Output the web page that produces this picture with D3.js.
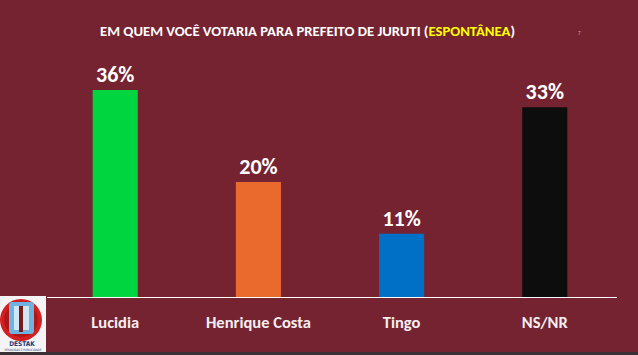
<!DOCTYPE html>
<html><head><meta charset="utf-8">
<script src="https://cdn.jsdelivr.net/npm/d3@7"></script>
<style>html,body{margin:0;padding:0;background:#752331;overflow:hidden}</style>
</head><body>
<svg id="c" width="638" height="355"></svg>
<script>
const categories = ["Lucidia", "Henrique Costa", "Tingo", "NS/NR"];
const values = [36, 20, 11, 33];
const valueLabels = ["36%", "20%", "11%", "33%"];
const colors = ["#00d43f", "#ea6a2d", "#0070c6", "#0d0d0d"];

const svg = d3.select("#c");
const W = 638, H = 355;
const font = "Carlito, Lato, 'Open Sans', sans-serif";
svg.append("rect").attr("width", W).attr("height", H).attr("fill", "#752331");

const x = d3.scaleBand().domain(categories).range([44, 616]).paddingInner(0.685).paddingOuter(0.34);
const y = d3.scaleLinear().domain([0, 36]).range([297, 90]);

// title
const t = svg.append("text").attr("x", 100).attr("y", 36).attr("font-family", font)
  .attr("font-weight", "bold").attr("font-size", 13.5).attr("fill", "#ffffff")
  .attr("textLength", 415).attr("lengthAdjust", "spacingAndGlyphs");
t.append("tspan").text("EM QUEM VOCÊ VOTARIA PARA PREFEITO DE JURUTI (");
t.append("tspan").attr("fill", "#ffff00").text("ESPONTÂNEA");
t.append("tspan").text(")");
svg.append("text").attr("x", 578).attr("y", 35).attr("font-family", font).attr("font-size", 5)
  .attr("fill", "#e8a8b0").text("7");

// bars
svg.selectAll("rect.bar").data(categories).join("rect").attr("class", "bar")
  .attr("x", d => x(d)).attr("width", x.bandwidth())
  .attr("y", (d, i) => y(values[i])).attr("height", (d, i) => y(0) - y(values[i]))
  .attr("fill", (d, i) => colors[i]);

// baseline
svg.append("line").attr("x1", 47).attr("x2", 617).attr("y1", 297.5).attr("y2", 297.5)
  .attr("stroke", "#ffffff").attr("stroke-width", 1.2);

// value labels
svg.selectAll("text.val").data(categories).join("text").attr("class", "val")
  .attr("x", d => x(d) + x.bandwidth() / 2).attr("y", (d, i) => y(values[i]) - 8)
  .attr("text-anchor", "middle").attr("font-family", font).attr("font-weight", "bold")
  .attr("font-size", 22).attr("fill", "#ffffff").text((d, i) => valueLabels[i]);

// category axis labels
const ax = d3.axisBottom(x).tickSize(0).tickPadding(0);
const g = svg.append("g").attr("transform", "translate(0,297)").call(ax);
g.select(".domain").remove();
g.selectAll("text").attr("dy", null).attr("y", 31).attr("font-family", font).attr("font-weight", "bold")
  .attr("font-size", 16.5).attr("fill", "#f4eef0");

// bottom strip
svg.append("rect").attr("x", 0).attr("y", 352).attr("width", W).attr("height", 3).attr("fill", "#3b3035");

// logo
const L = svg.append("g");
L.append("rect").attr("x", 0).attr("y", 296).attr("width", 46).attr("height", 56).attr("fill", "#f4f4f6");
L.append("circle").attr("cx", 21).attr("cy", 320).attr("r", 21).attr("fill", "#d21f1f");
L.append("circle").attr("cx", 21).attr("cy", 320).attr("r", 17).attr("fill", "#b01818");
L.append("rect").attr("x", 9).attr("y", 302).attr("width", 25).attr("height", 32).attr("rx", 3).attr("fill", "#6fb3e0");
L.append("rect").attr("x", 14).attr("y", 306).attr("width", 15).attr("height", 24).attr("fill", "#cfe6f5");
L.append("rect").attr("x", 19).attr("y", 306).attr("width", 4).attr("height", 26).attr("fill", "#7a1a1a");
L.append("text").attr("x", 22).attr("y", 346).attr("text-anchor", "middle").attr("font-family", "'DejaVu Sans Condensed', sans-serif")
  .attr("font-weight", "bold").attr("font-size", 6.5).attr("fill", "#1c3d7a").text("DESTAK");
L.append("text").attr("x", 23).attr("y", 351).attr("text-anchor", "middle").attr("font-family", "'DejaVu Sans Condensed', sans-serif")
  .attr("font-size", 3).attr("fill", "#1c3d7a").text("PESQUISAS E PUBLICIDADE");
</script>
</body></html>
